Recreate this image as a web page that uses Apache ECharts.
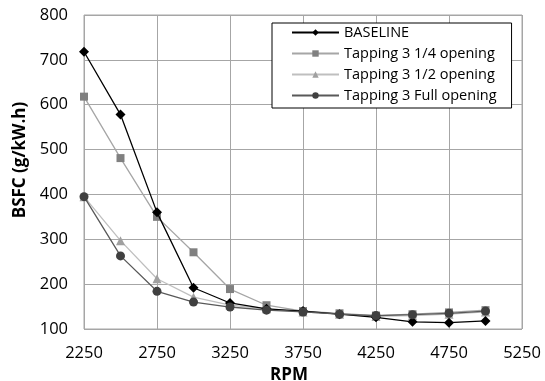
<!DOCTYPE html>
<html>
<head>
<meta charset="utf-8">
<script src="https://cdn.jsdelivr.net/npm/echarts@6/dist/echarts.min.js"></script>
<style>html,body{margin:0;padding:0;background:#fff}#c{width:545px;height:381px}</style>
</head>
<body>
<div id="c"></div>
<script>
var rpm = [2250, 2500, 2750, 3000, 3250, 3500, 3750, 4000, 4250, 4500, 4750, 5000];
var baseline = [718, 578, 360, 192, 158, 145, 140, 133, 126, 116, 114, 118];
var tap14 = [618, 481, 350, 271, 189, 153, 140, 135, 130, 133, 137, 142];
var tap12 = [395, 297, 212, 171, 153, 145, 138, 133, 128, 130, 133, 138];
var tapFull = [395, 263, 184, 160, 149, 142, 138, 133, 130, 132, 135, 140];
var seriesNames = ['BASELINE', 'Tapping 3 1/4 opening', 'Tapping 3 1/2 opening', 'Tapping 3 Full opening'];

function pairs(v) { return rpm.map(function (x, i) { return [x, v[i]]; }); }
var FONT = 'Open Sans';

var chart = echarts.init(document.getElementById('c'), null, {renderer: 'canvas'});
chart.setOption({
  animation: false,
  backgroundColor: '#fff',
  grid: {left: 84, right: 23, top: 15, bottom: 52, show: true, borderColor: '#a6a6a6', borderWidth: 1,
         outerBoundsMode: 'none', containLabel: false},
  legend: {
    orient: 'vertical', left: 272, top: 23,
    padding: [2, 15, 5, 19],
    itemWidth: 47, itemHeight: 8, itemGap: 6,
    backgroundColor: '#fff', borderColor: '#000', borderWidth: 1,
    textStyle: {fontFamily: FONT, fontSize: 14.5, color: '#000'},
    data: seriesNames
  },
  xAxis: {
    type: 'value', min: 2250, max: 5250, interval: 500,
    name: 'RPM', nameLocation: 'middle', nameGap: 36,
    nameTextStyle: {fontFamily: FONT, fontSize: 17, fontWeight: 'bold', color: '#000', padding: [0, 28, 0, 0]},
    axisLine: {show: false}, axisTick: {show: false},
    axisLabel: {fontFamily: FONT, fontSize: 16.5, color: '#000', margin: 16,
      formatter: function (v) { return String(v); }},
    splitLine: {show: true, lineStyle: {color: '#a6a6a6', width: 1}}
  },
  yAxis: {
    type: 'value', min: 100, max: 800, interval: 100,
    name: 'BSFC (g/kW.h)', nameLocation: 'middle', nameGap: 55,
    nameTextStyle: {fontFamily: FONT, fontSize: 17, fontWeight: 'bold', color: '#000', padding: [0, 0, 0, 24]},
    axisLine: {show: false}, axisTick: {show: false},
    axisLabel: {fontFamily: FONT, fontSize: 16.5, color: '#000', margin: 16},
    splitLine: {show: true, lineStyle: {color: '#a6a6a6', width: 1}}
  },
  series: [
    {name: seriesNames[0], type: 'line', data: pairs(baseline), symbol: 'diamond', symbolSize: 10,
     lineStyle: {color: '#000', width: 1.3}, itemStyle: {color: '#000'}, z: 5},
    {name: seriesNames[1], type: 'line', data: pairs(tap14), symbol: 'rect', symbolSize: 8,
     lineStyle: {color: '#a6a6a6', width: 1.3}, itemStyle: {color: '#808080'}, z: 4},
    {name: seriesNames[2], type: 'line', data: pairs(tap12), symbol: 'triangle', symbolSize: 9,
     lineStyle: {color: '#bfbfbf', width: 1.3}, itemStyle: {color: '#a0a0a0'}, z: 3},
    {name: seriesNames[3], type: 'line', data: pairs(tapFull), symbol: 'circle', symbolSize: 9,
     lineStyle: {color: '#595959', width: 1.3}, itemStyle: {color: '#404040'}, z: 6}
  ]
});
</script>
</body>
</html>
